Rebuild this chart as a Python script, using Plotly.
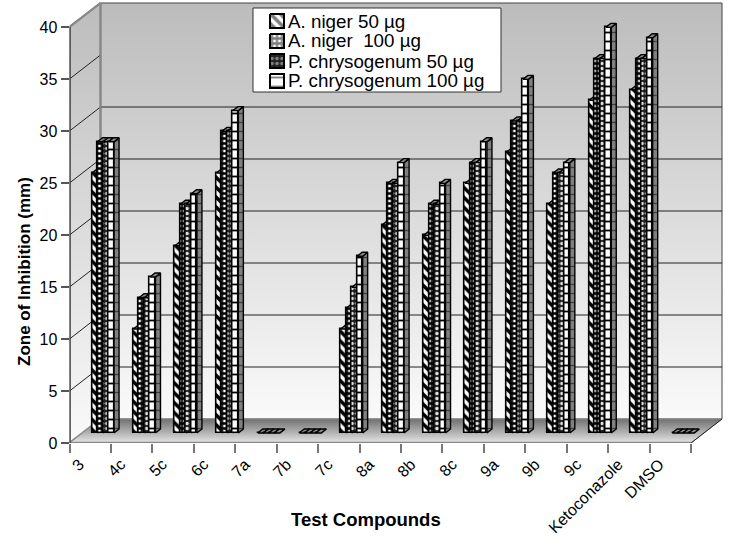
import plotly.graph_objects as go

categories = ["3","4c","5c","6c","7a","7b","7c","8a","8b","8c","9a","9b","9c","Ketoconazole","DMSO"]
niger_50 = [25,10,18,25,0,0,10,20,19,24,27,22,32,33,0]
niger_100 = [28,13,22,29,0,0,12,24,22,26,30,25,36,36,0]
chryso_50 = [28,13,22,29,0,0,14,24,22,26,30,25,36,36,0]
chryso_100 = [28,15,23,31,0,0,17,26,24,28,34,26,39,38,0]
series_names = ["A. niger 50 µg","A. niger  100 µg","P. chrysogenum 50 µg","P. chrysogenum 100 µg"]
y_ticks = [0,5,10,15,20,25,30,35,40]
back_grid = [5,10,15,20,25,30]

W, H = 729, 542
XL, XR, YB, YT = 69.5, 691.0, 443.0, 27.0
N = len(categories)
PX = (XR-XL)/N
PY = (YB-YT)/40
DX, DY = 31/PX, 24/PY        # chart depth
BX, BY = 0.31, 10/PY         # bars stand partway into the floor
BW = 5.5/PX                  # bar width
BDX, BDY = 5/PX, 4/PY        # bar depth

# axes extend beyond the front plane so that the depth is not clipped
XEND, YEND = 727.0, 1.0
xrange_ = [0, (XEND-XL)/PX]
yrange_ = [0, (YB-YEND)/PY]
domx = [XL/W, XEND/W]
domy = [1-YB/H, 1-YEND/H]

FONT = "Liberation Sans, Arial, sans-serif"

def to_x(px): return (px-XL)/PX
def to_y(py): return (YB-py)/PY

fig = go.Figure()

def poly(xs, ys, **kw):
    return go.Scatter(x=xs, y=ys, mode="lines", fill="toself", hoverinfo="skip",
                      showlegend=False, cliponaxis=False, **kw)

def line(xs, ys, color, width):
    return go.Scatter(x=xs, y=ys, mode="lines", line=dict(color=color, width=width),
                      hoverinfo="skip", showlegend=False, cliponaxis=False)

# walls and floor
wall_grad = dict(type="vertical", colorscale=[[0,"#fafafa"],[1,"#bcbcbc"]])
fig.add_trace(poly([DX,N+DX,N+DX,DX,DX],[DY,DY,40+DY,40+DY,DY],
    line=dict(color="#444",width=1), fillgradient=wall_grad))
fig.add_trace(poly([0,DX,DX,0,0],[0,DY,40+DY,40,0],
    line=dict(color="#888",width=2), fillgradient=wall_grad))
fig.add_trace(poly([0,N,N+DX,DX,0],[0,0,DY,DY,0],
    line=dict(color="#888",width=1),
    fillgradient=dict(type="vertical",colorscale=[[0,"#e6e6e6"],[1,"#707070"]])))
fig.add_trace(line([N,N+DX],[0,DY],"#222",1))
# gridlines
gx, gy = [], []
for v in y_ticks[1:-1]:
    gx += [0,DX,None]; gy += [v,v+DY,None]
for v in back_grid:
    gx += [DX,N+DX,None]; gy += [v+DY,v+DY,None]
fig.add_trace(line(gx,gy,"#222",1))
# edges and axis lines
fig.add_trace(line([0,DX,DX],[40,40+DY,DY],"#888",2))
fig.add_trace(line([0,N],[0,0],"#888",2.5))
fig.add_trace(line([0,0],[0,40],"#444",2.5))

styles = [
    dict(shape="\\", bg="white", fg="black", size=7, sol=0.5),
    dict(shape="+", bg="white", fg="black", size=5, sol=0.7),
    dict(shape=".", bg="#222222", fg="#e4e4e4", size=5, sol=0.4),
    dict(shape="-", bg="white", fg="black", size=9, sol=0.2),
]
all_series = [niger_50, niger_100, chryso_50, chryso_100]

# legend box and its keys (drawn as a compact panel)
LEG = (253, 501, 8, 92)
LROW = [21, 41, 61, 81]
fig.add_trace(poly([to_x(LEG[0]),to_x(LEG[1]),to_x(LEG[1]),to_x(LEG[0]),to_x(LEG[0])],
                   [to_y(LEG[2]),to_y(LEG[2]),to_y(LEG[3]),to_y(LEG[3]),to_y(LEG[2])],
                   line=dict(color="#333",width=1), fillcolor="white"))
for st, ry in zip(styles, LROW):
    x0,x1,y0,y1 = to_x(270),to_x(284),to_y(ry-7),to_y(ry+7)
    fig.add_trace(poly([x0,x1,x1,x0,x0],[y0,y0,y1,y1,y0],
        line=dict(color="black",width=2), fillcolor=st["bg"],
        fillpattern=dict(shape=st["shape"],bgcolor=st["bg"],fgcolor=st["fg"],size=st["size"],solidity=st["sol"])))

for s, vals in enumerate(all_series):
    ax = str(s+2)
    st = styles[s]
    off = (s-2)*BW
    xc = [i+0.5+BX for i in range(N)]
    fig.add_trace(go.Bar(
        x=xc, y=vals, base=[BY]*N, width=BW, offset=off, name=series_names[s],
        xaxis="x"+ax, yaxis="y"+ax, cliponaxis=False, hoverinfo="skip", showlegend=False,
        marker=dict(color=st["bg"], line=dict(color="black",width=1.6),
                    pattern=dict(shape=st["shape"],bgcolor=st["bg"],fgcolor=st["fg"],
                                 size=st["size"],solidity=st["sol"],fillmode="replace")),
    ))
    sx, sy, tx, ty = [], [], [], []
    for c, v in zip(xc, vals):
        r = c+off+BW
        l = c+off
        sx += [r,r+BDX,r+BDX,r,r,None]
        sy += [BY,BY+BDY,BY+v+BDY,BY+v,BY,None]
        tx += [l,r,r+BDX,l+BDX,l,None]
        ty += [BY+v,BY+v,BY+v+BDY,BY+v+BDY,BY+v,None]
    fig.add_trace(poly(sx, sy, xaxis="x"+ax, yaxis="y"+ax,
        line=dict(color="black",width=1.4), fillcolor="#808080",
        fillpattern=dict(shape="-",bgcolor="#808080",fgcolor="black",size=9,solidity=0.15)))
    fig.add_trace(poly(tx, ty, xaxis="x"+ax, yaxis="y"+ax,
        line=dict(color="black",width=1.4), fillcolor="#8a8a8a"))

annotations = [
    dict(text="<b>Test Compounds</b>", xref="paper", yref="paper", x=366/W, y=1-519/H,
         showarrow=False, font=dict(size=18.5,family=FONT), xanchor="center", yanchor="middle"),
    dict(text="<b>Zone of Inhibition (mm)</b>", xref="paper", yref="paper", x=24/W, y=1-272/H,
         showarrow=False, font=dict(size=17,family=FONT), textangle=-90, xanchor="center", yanchor="middle"),
]
for name, ry in zip(series_names, LROW):
    annotations.append(dict(text=name, xref="paper", yref="paper", x=288/W, y=1-ry/H, showarrow=False,
                            font=dict(size=18.8,family=FONT), xanchor="left", yanchor="middle",
                            xshift=-1, borderpad=0))

layout = dict(
    width=W, height=H, margin=dict(l=0,r=0,t=0,b=0), autosize=False,
    paper_bgcolor="white", plot_bgcolor="rgba(0,0,0,0)",
    font=dict(family=FONT,color="black"), barmode="overlay", bargap=0,
    xaxis=dict(domain=domx, range=xrange_, anchor="y",
        tickmode="array", tickvals=[i+0.24 for i in range(N)], ticktext=categories,
        tickangle=-45, ticks="", tickfont=dict(size=16,family=FONT), showgrid=False, zeroline=False,
        showline=False, ticklabelstandoff=8,
        minor=dict(tickmode="array", tickvals=list(range(N+1)), ticks="outside", ticklen=9,
                   tickcolor="#777", tickwidth=1.5, showgrid=False),
        title=None, automargin=False),
    yaxis=dict(domain=domy, range=yrange_, anchor="x",
        tickmode="array", tickvals=y_ticks, ticks="outside", ticklen=8, tickcolor="#555", tickwidth=1.5,
        tickfont=dict(size=16,family=FONT), showgrid=False, zeroline=False,
        showline=False, automargin=False),
    annotations=annotations,
    showlegend=False,
)
for s in range(4):
    a = str(s+2)
    layout["xaxis"+a] = dict(domain=domx, range=xrange_, overlaying="x", anchor="y"+a, visible=False)
    layout["yaxis"+a] = dict(domain=domy, range=yrange_, overlaying="y", anchor="x"+a, visible=False)
fig.update_layout(**layout)
fig.write_html("out.html", config=dict(displayModeBar=False),
               post_script="document.body.style.margin='0';document.body.style.overflow='hidden';")
